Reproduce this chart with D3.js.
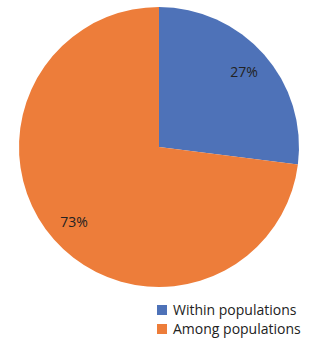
<!DOCTYPE html>
<html>
<head>
<meta charset="utf-8">
<script src="https://cdn.jsdelivr.net/npm/d3@7"></script>
<style>
  body { margin: 0; background: #fff; }
  text { font-family: 'Open Sans', sans-serif; }
</style>
</head>
<body>
<div id="chart"></div>
<script>
const categories = ['Within populations', 'Among populations']
const values = [27, 73]
const colors = ['#4e72b8', '#ed7d3a']

const width = 321
const height = 346
const cx = 159
const cy = 147
const radius = 140

const svg = d3.select('#chart')
  .append('svg')
  .attr('width', width)
  .attr('height', height)

const g = svg.append('g')
  .attr('transform', 'translate(' + cx + ',' + cy + ')')

const pie = d3.pie().sort(null).value(d => d.value)
const arc = d3.arc().innerRadius(0).outerRadius(radius)
const labelArc = d3.arc().innerRadius(radius * 0.81).outerRadius(radius * 0.81)

const data = categories.map((c, i) => ({ name: c, value: values[i], color: colors[i] }))
const arcs = pie(data)

g.selectAll('path')
  .data(arcs)
  .enter()
  .append('path')
  .attr('d', arc)
  .attr('fill', d => d.data.color)

g.selectAll('.label')
  .data(arcs)
  .enter()
  .append('text')
  .attr('class', 'label')
  .attr('transform', d => 'translate(' + labelArc.centroid(d) + ')')
  .attr('text-anchor', 'middle')
  .attr('dy', '0.35em')
  .attr('font-size', '14px')
  .attr('fill', '#222')
  .text(d => d.data.value + '%')

// legend
const legend = svg.append('g')
  .attr('transform', 'translate(157,305)')

const item = legend.selectAll('g')
  .data(data)
  .enter()
  .append('g')
  .attr('transform', (d, i) => 'translate(0,' + i * 19 + ')')

item.append('rect')
  .attr('width', 10)
  .attr('height', 10)
  .attr('fill', d => d.color)

item.append('text')
  .attr('x', 16)
  .attr('y', 10)
  .attr('font-size', '14px')
  .attr('fill', '#222')
  .text(d => d.name)
</script>
</body>
</html>
